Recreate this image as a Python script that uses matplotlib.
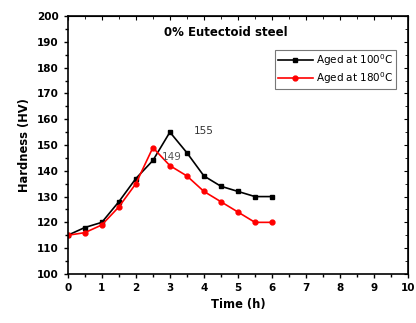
import matplotlib
matplotlib.use("Agg")
import matplotlib.pyplot as plt
from matplotlib.ticker import MultipleLocator

time_h = [0, 0.5, 1, 1.5, 2, 2.5, 3, 3.5, 4, 4.5, 5, 5.5, 6]
hv_100 = [115, 118, 120, 128, 137, 144, 155, 147, 138, 134, 132, 130, 130]
hv_180 = [115, 116, 119, 126, 135, 149, 142, 138, 132, 128, 124, 120, 120]

plt.rcParams['font.family'] = ['DejaVu Sans']
fig = plt.figure(figsize=(4.16, 3.23), dpi=100)
ax = fig.add_axes([0.163, 0.152, 0.818, 0.798])

ax.plot(time_h, hv_100, color='black', marker='s', markersize=3.5, lw=1.2, label='Aged at 100$^0$C')
ax.plot(time_h, hv_180, color='red', marker='o', markersize=3.5, lw=1.2, label='Aged at 180$^0$C')

ax.text(3.7, 155.5, '155', fontsize=7.5, color='#333333', va='center')
ax.text(2.75, 145.5, '149', fontsize=7.5, color='#555555', va='center')
ax.text(4.65, 193.5, '0% Eutectoid steel', fontsize=8.5, fontweight='bold', ha='center', va='center')

ax.set_xlim(0, 10)
ax.set_ylim(100, 200)
ax.xaxis.set_major_locator(MultipleLocator(1))
ax.xaxis.set_minor_locator(MultipleLocator(0.5))
ax.yaxis.set_major_locator(MultipleLocator(10))
ax.yaxis.set_minor_locator(MultipleLocator(5))
ax.tick_params(which='both', direction='out', labelsize=7.5, width=1)
ax.tick_params(which='major', length=3)
ax.tick_params(which='minor', length=2)
for lbl in ax.get_xticklabels() + ax.get_yticklabels():
    lbl.set_fontweight('bold')

sec_x = ax.secondary_xaxis('top')
sec_x.xaxis.set_major_locator(MultipleLocator(1))
sec_x.xaxis.set_minor_locator(MultipleLocator(0.5))
sec_x.tick_params(which='both', direction='in', labeltop=False)
sec_x.tick_params(which='major', length=3)
sec_x.tick_params(which='minor', length=2)
sec_y = ax.secondary_yaxis('right')
sec_y.yaxis.set_major_locator(MultipleLocator(10))
sec_y.yaxis.set_minor_locator(MultipleLocator(5))
sec_y.tick_params(which='both', direction='in', labelright=False)
sec_y.tick_params(which='major', length=3)
sec_y.tick_params(which='minor', length=2)

for s in ax.spines.values():
    s.set_linewidth(1.2)

ax.set_xlabel('Time (h)', fontsize=8.3, fontweight='bold')
ax.set_ylabel('Hardness (HV)', fontsize=8.3, fontweight='bold')

leg = ax.legend(loc='upper right', bbox_to_anchor=(0.965, 0.87), fontsize=7.5, frameon=True,
                fancybox=False, edgecolor='#555555', handlelength=3.4, borderpad=0.25,
                labelspacing=0.2, handletextpad=0.3, borderaxespad=0)
leg.get_frame().set_linewidth(0.8)

fig.savefig('out.png', dpi=100)
